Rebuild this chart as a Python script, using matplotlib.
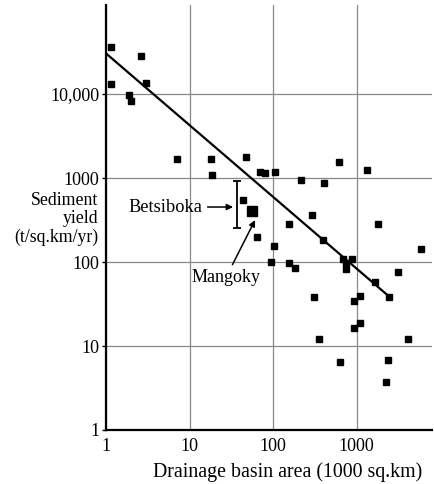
import matplotlib
matplotlib.use("Agg")
import matplotlib.pyplot as plt
import numpy as np
from matplotlib.ticker import FixedLocator, FixedFormatter, NullLocator

plt.rcParams['font.family'] = ['Liberation Serif', 'DejaVu Serif']

# basin area (1000 sq.km) and sediment yield (t/sq.km/yr)
area = [1.15, 1.15, 2.65, 3.0, 1.9, 2.0, 7.0, 17.9, 18.8, 47, 69, 80, 106,
        622, 1340, 218, 411, 293, 157, 1810, 394, 102, 5970, 95, 157, 182,
        695, 743, 750, 883, 3160, 1680, 2470, 310, 1100, 934, 1100, 934,
        352, 4140, 634, 2400, 2250, 43.4, 63.8]
yld = [36500, 13150, 28300, 13600, 9730, 8330, 1670, 1670, 1086, 1763, 1190,
       1137, 1190, 1540, 1236, 938, 872, 366, 281, 281, 183, 155, 142, 99,
       96.5, 85.5, 108, 96.5, 82, 108, 75.4, 58.2, 38.6, 38, 39.4, 34, 19,
       16.4, 12.2, 12.2, 6.5, 6.76, 3.73, 547, 200]

mangoky = (56.5, 405)
betsiboka_x = 36.7
betsiboka_range = (252, 930)

# fitted trend line
fit_a, fit_b = 30500, -0.854
fit_x = np.array([1.0, 2470])

fig = plt.figure(figsize=(4.34, 4.84), dpi=100)
ax = fig.add_axes([106/434, 1 - 430/484, 326/434, 425/484])
ax.set_xscale('log')
ax.set_yscale('log')
ax.set_xlim(1, 8000)
ax.set_ylim(1, 1.15e5)

ax.plot(fit_x, fit_a * fit_x ** fit_b, color='black', lw=1.6, zorder=3)
ax.plot(area, yld, 's', color='black', ms=5, zorder=4)
ax.plot([mangoky[0]], [mangoky[1]], 's', color='black', ms=7.5, zorder=4)
mid = np.sqrt(betsiboka_range[0] * betsiboka_range[1])
ax.errorbar([betsiboka_x], [mid],
            yerr=[[mid - betsiboka_range[0]], [betsiboka_range[1] - mid]],
            fmt='none', ecolor='black', elinewidth=1.3, capsize=3, capthick=1.3, zorder=4)

ax.annotate('Betsiboka', xy=(33.2, 452), xytext=(5.1, 452),
            ha='center', va='center', fontsize=13.2,
            arrowprops=dict(arrowstyle='-|>', color='black', lw=1.1,
                            mutation_scale=9, shrinkA=2, shrinkB=0))
ax.annotate('Mangoky', xy=(60.9, 316), xytext=(27.4, 66),
            ha='center', va='center', fontsize=13,
            arrowprops=dict(arrowstyle='-|>', color='black', lw=1.1,
                            mutation_scale=9, shrinkA=1, shrinkB=0))

ax.xaxis.set_major_locator(FixedLocator([1, 10, 100, 1000]))
ax.xaxis.set_major_formatter(FixedFormatter(['1', '10', '100', '1000']))
ax.yaxis.set_major_locator(FixedLocator([1, 10, 100, 1000, 10000]))
ax.yaxis.set_major_formatter(FixedFormatter(['1', '10', '100', '1000', '10,000']))
ax.xaxis.set_minor_locator(NullLocator())
ax.yaxis.set_minor_locator(NullLocator())
ax.grid(True, color='#888888', lw=0.9)
ax.set_axisbelow(True)
ax.tick_params(labelsize=13, width=1, color='black')
ax.tick_params(axis='y', length=3, pad=2)
ax.tick_params(axis='x', length=0, pad=6)

for s in ['top', 'right']:
    ax.spines[s].set_visible(False)
for s in ['left', 'bottom']:
    ax.spines[s].set_linewidth(1.6)

ax.set_xlabel('Drainage basin area (1000 sq.km)', fontsize=14.3)
ax.xaxis.set_label_coords(0.558, -0.076)
fig.text(98/434, 1 - 219/484, 'Sediment\nyield\n(t/sq.km/yr)', ha='right', va='center',
         fontsize=12.8, linespacing=1.12)

fig.savefig('out.png', dpi=100)
